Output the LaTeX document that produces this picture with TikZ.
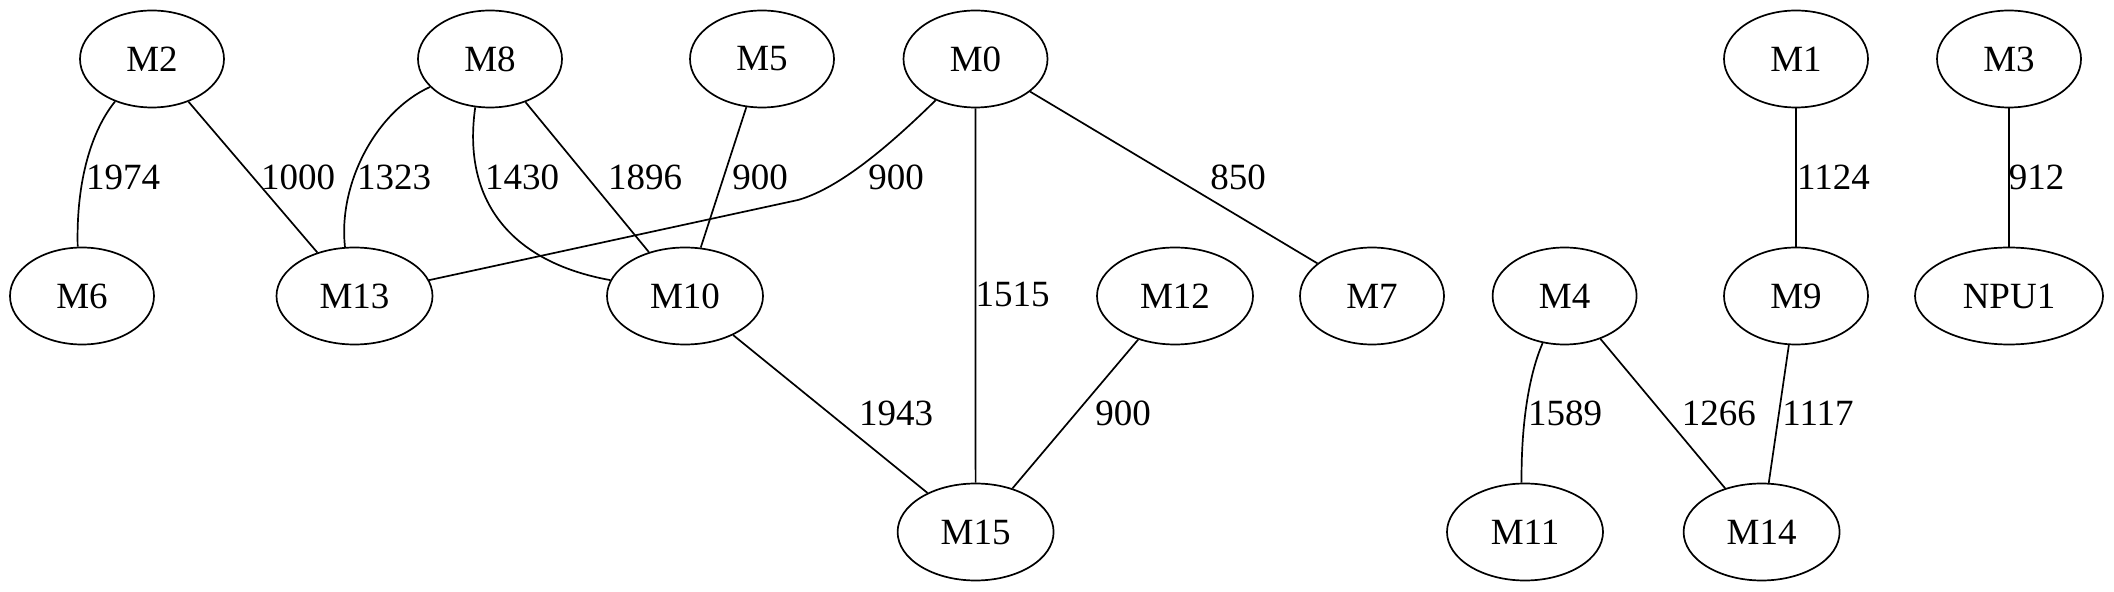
\documentclass[tikz,border=0pt]{standalone}
\usepackage{fontspec}
\setmainfont{Liberation Serif}
\usetikzlibrary{shapes.geometric}
\begin{document}
\begin{tikzpicture}[x=0.5pt,y=-0.5pt,
  every node/.style={font=\fontsize{18.5}{22}\selectfont},
  nd/.style={ellipse, draw, line width=0.85pt, inner sep=0pt, minimum width=72pt, minimum height=48.5pt},
  ndw/.style={nd, minimum width=78pt},
  ndx/.style={nd, minimum width=94pt},
  edge/.style={line width=0.85pt},
  lbl/.style={inner sep=0pt}]
\useasboundingbox (0,0) rectangle (2114,592);
% row 1
\node[nd] (M2) at (152,59) {M2};
\node[nd] (M8) at (490,59) {M8};
\node[nd] (M5) at (762,59) {M5};
\node[nd] (M0) at (975.5,59) {M0};
\node[nd] (M1) at (1796,59) {M1};
\node[nd] (M3) at (2009,59) {M3};
% row 2
\node[nd] (M6) at (82,296) {M6};
\node[ndw] (M13) at (354.5,296) {M13};
\node[ndw] (M10) at (685,296) {M10};
\node[ndw] (M12) at (1175,296) {M12};
\node[nd] (M7) at (1372,296) {M7};
\node[nd] (M4) at (1564.6,296) {M4};
\node[nd] (M9) at (1796,296) {M9};
\node[ndx] (NPU1) at (2009,296) {NPU1};
% row 3
\node[ndw] (M15) at (975.6,532) {M15};
\node[ndw] (M11) at (1525,532) {M11};
\node[ndw] (M14) at (1761.6,532) {M14};
% edges
\draw[edge] (M2.-131.4) .. controls (92,130) and (76,180) .. (M6.95.8);
\draw[edge] (M2) -- (M13);
\draw[edge] (M8.-155.8) .. controls (375,112) and (338,185) .. (M13.101.5);
\draw[edge] (M8.-107.9) .. controls (462,200) and (510,262) .. (M10.168.8);
\draw[edge] (M8) -- (M10);
\draw[edge] (M5) -- (M10);
\coordinate (bend) at (798,200);
\draw[edge] (M0.-134.7) .. controls (890,145) and (840,188) .. (bend) -- (M13.12.6);
\draw[edge] (M0) -- (M15);
\draw[edge] (M0) -- (M7);
\draw[edge] (M10) -- (M15);
\draw[edge] (M12) -- (M15);
\draw[edge] (M1) -- (M9);
\draw[edge] (M3) -- (NPU1);
\draw[edge] (M4.-115) .. controls (1530,372) and (1521,420) .. (M11.94);
\draw[edge] (M4) -- (M14);
\draw[edge] (M9) -- (M14);
% labels
\node[lbl] (l1) at (123,177.5) {1974};
\node[lbl] (l2) at (298,177.5) {1000};
\node[lbl] (l3) at (394,177.5) {1323};
\node[lbl] (l4) at (522,177.5) {1430};
\node[lbl] (l5) at (645,177.5) {1896};
\node[lbl] (l6) at (760,177.5) {900};
\node[lbl] (l7) at (896,177.5) {900};
\node[lbl] (l8) at (1238,177.5) {850};
\node[lbl] (l9) at (1012.5,294.5) {1515};
\node[lbl] (l10) at (896,413.5) {1943};
\node[lbl] (l11) at (1123,413.5) {900};
\node[lbl] (l12) at (1833.5,177.5) {1124};
\node[lbl] (l13) at (2036.6,177.5) {912};
\node[lbl] (l14) at (1565,413.5) {1589};
\node[lbl] (l15) at (1718.8,413.5) {1266};
\node[lbl] (l16) at (1818,413.5) {1117};
\end{tikzpicture}
\end{document}
